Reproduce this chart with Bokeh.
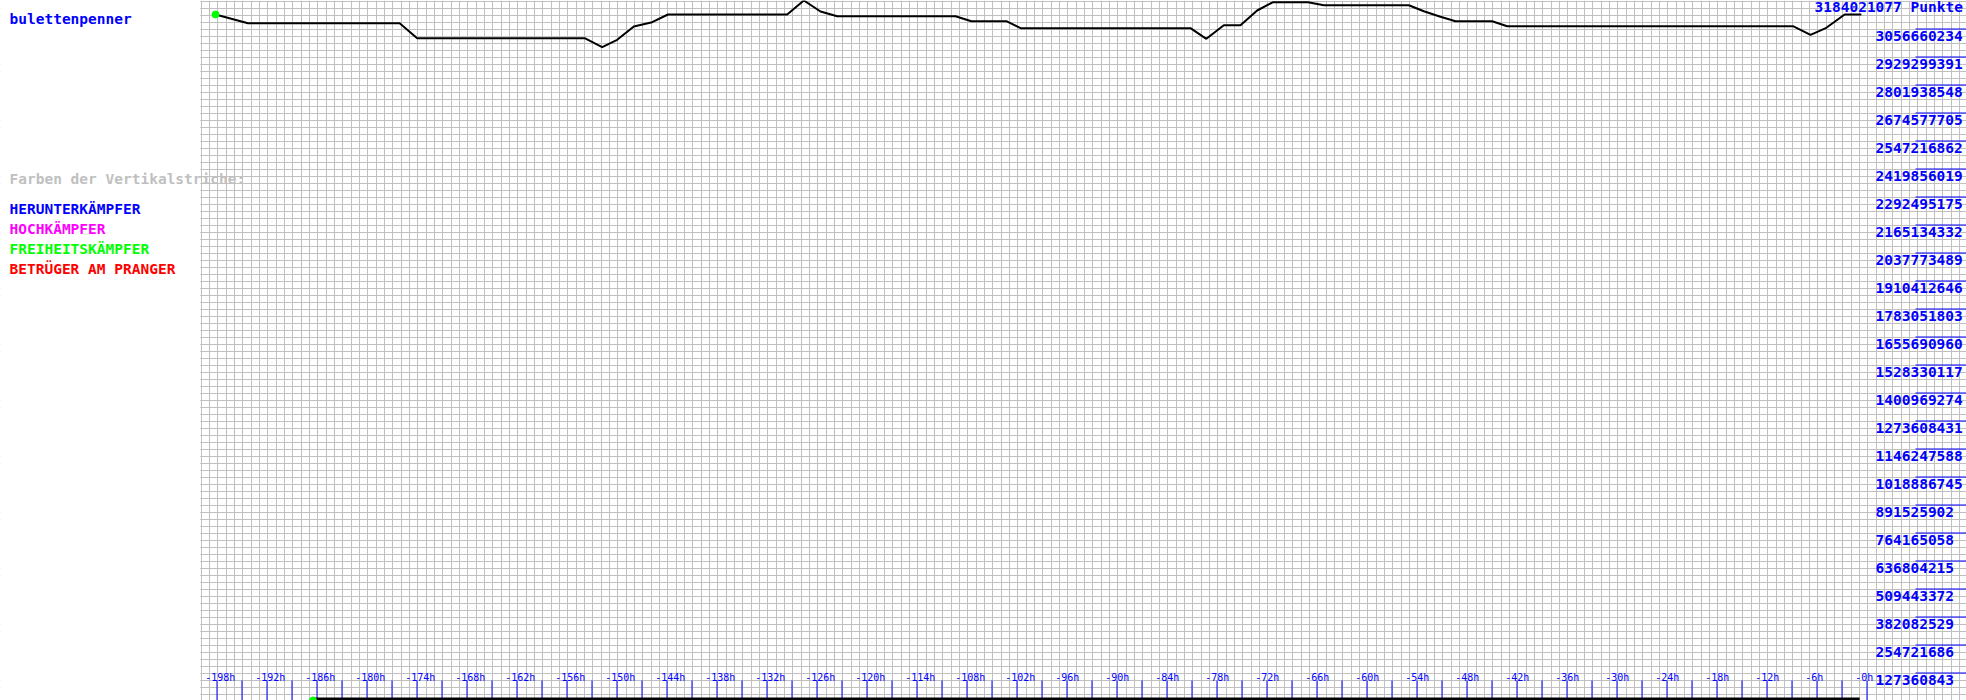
import math
from bokeh.plotting import figure
from bokeh.models import Range1d, Grid, FixedTicker
from bokeh.core.properties import value
from bokeh.embed import file_html
from bokeh.resources import INLINE

# ---------------- data ----------------
SPIELER = "bulettenpenner"
MAX_PUNKTE = 3184021077

stunden = [-198.2, -194.3, -176.1, -174.0, -153.9, -151.8, -150.0, -148.0, -145.8,
           -143.9, -129.6, -127.6, -125.6, -123.6, -109.4, -107.5, -103.3, -101.6,
           -81.2, -79.3, -77.2, -75.2, -73.2, -71.3, -67.1, -65.2, -55.0, -53.2,
           -51.3, -49.4, -45.0, -43.2, -8.9, -6.8, -4.9, -2.7, -0.7]
punkte = [3120340656, 3080767823, 3080767823, 3012538801, 3012538801, 2971601387,
          3005261038, 3065757438, 3085316424, 3120340656, 3120340656, 3184021077,
          3133986460, 3112608033, 3112608033, 3089865026, 3089865026, 3058024815,
          3058024815, 3009809640, 3071670620, 3071670620, 3138535062, 3176288454,
          3176288454, 3162642650, 3162642650, 3135351041, 3111243453, 3089865026,
          3089865026, 3067122018, 3067122018, 3028004045, 3059844256, 3120340656,
          3120340656]

basis_stunden = [-186.5, -0.9]
basis_punkte = [0, 0]

y_labels = ["127360843", "254721686", "382082529", "509443372", "636804215",
            "764165058", "891525902", "1018886745", "1146247588", "1273608431",
            "1400969274", "1528330117", "1655690960", "1783051803", "1910412646",
            "2037773489", "2165134332", "2292495175", "2419856019", "2547216862",
            "2674577705", "2801938548", "2929299391", "3056660234"]
y_label_values = [int(s) for s in y_labels]
top_label = "3184021077 Punkte"

x_tick_hours = list(range(-198, 1, 3))
x_label_hours = list(range(-198, 1, 6))
x_labels = ["-%dh" % abs(h) for h in x_label_hours]

legend_title = "Farben der Vertikalstriche:"
legend_texts = ["HERUNTERKÄMPFER", "HOCHKÄMPFER", "FREIHEITSKÄMPFER", "BETRÜGER AM PRANGER"]
legend_colors = ["#0000ff", "#ff00ff", "#00ff00", "#ff0000"]

# ---------------- layout helpers ----------------
W, H = 1966, 700
PX_PER_H = 100.0 / 12.0
ZERO_PX = 1866.67
GRID_LEFT_PX = 200
BIG = 14.5     # font size of the large texts (px)
SMALL = 10     # font size of the hour labels (px)
SHIFT_BIG = 5.5
SHIFT_SMALL = 4.0


def X(px):
    return (px - ZERO_PX) / PX_PER_H


def Y(py):
    return MAX_PUNKTE * (H - py) / H


def DY(dpx):
    return MAX_PUNKTE * dpx / H


def crisp_x(h):
    # snap a grid line onto a single pixel column
    return X(math.floor(ZERO_PX + h * PX_PER_H) + 0.5)


p = figure(width=W, height=H, output_backend="svg", toolbar_location=None,
           x_range=Range1d(X(0), X(W)), y_range=Range1d(0, MAX_PUNKTE),
           x_axis_type=None, y_axis_type=None, min_border=0,
           outline_line_color=None, background_fill_color="white",
           border_fill_color="white")

GRID_COLOR = "#c0c0c0"
vgrid_ticks = [crisp_x(h) for h in range(-200, 12)]
hgrid_ticks = [MAX_PUNKTE * k / 100.0 - DY(0.5) for k in range(1, 101)]
p.add_layout(Grid(dimension=0, ticker=FixedTicker(ticks=vgrid_ticks),
                  grid_line_color=GRID_COLOR, grid_line_width=1))
p.add_layout(Grid(dimension=1, ticker=FixedTicker(ticks=hgrid_ticks),
                  grid_line_color=GRID_COLOR, grid_line_width=1))

# white left panel (no grid there)
p.quad(left=X(0), right=X(GRID_LEFT_PX - 0.2), bottom=0, top=MAX_PUNKTE,
       fill_color="white", line_color=None)

BLUE = "#0000ff"
MONO = value("DejaVu Sans Mono")
BIGS = "%gpx" % BIG
SMALLS = "%gpx" % SMALL

# bottom hour ticks
tick_x = [crisp_x(h) for h in x_tick_hours]
p.segment(x0=tick_x, y0=[0] * len(x_tick_hours),
          x1=tick_x, y1=[DY(20)] * len(x_tick_hours),
          line_color=BLUE, line_width=1)
p.text(x=x_label_hours, y=[DY(19.5 + SHIFT_SMALL)] * len(x_label_hours), text=x_labels,
       x_offset=-12, text_font=MONO, text_font_size=SMALLS, text_color=BLUE,
       text_align="left", text_baseline="alphabetic")

# right value labels
p.segment(x0=[X(1915)] * len(y_label_values), y0=[v - DY(0.5) for v in y_label_values],
          x1=[X(W)] * len(y_label_values), y1=[v - DY(0.5) for v in y_label_values],
          line_color=BLUE, line_width=1)
p.text(x=[X(1875)] * len(y_label_values),
       y=[v - DY(13 - SHIFT_BIG) for v in y_label_values],
       text=y_labels, text_font=MONO, text_font_size=BIGS, text_font_style="bold",
       text_color=BLUE, text_align="left", text_baseline="alphabetic")
p.text(x=[X(1814)], y=[MAX_PUNKTE - DY(11.5 - SHIFT_BIG)], text=[top_label], text_font=MONO,
       text_font_size=BIGS, text_font_style="bold", text_color=BLUE,
       text_align="left", text_baseline="alphabetic")

# series
p.line(basis_stunden, basis_punkte, line_color="black", line_width=6)
p.scatter(basis_stunden[:1], basis_punkte[:1], size=7, color="#00ff00")
p.line(stunden, punkte, line_color="black", line_width=2)
p.scatter(stunden[:1], punkte[:1], size=7, color="#00ff00")

# left panel texts
p.text(x=[X(9)], y=[Y(23.5 - SHIFT_BIG)], text=[SPIELER], text_font=MONO,
       text_font_size=BIGS, text_font_style="bold", text_color=BLUE,
       text_align="left", text_baseline="alphabetic")
p.text(x=[X(9)], y=[Y(183.5 - SHIFT_BIG)], text=[legend_title], text_font=MONO,
       text_font_size=BIGS, text_font_style="bold", text_color="#c0c0c0",
       text_align="left", text_baseline="alphabetic")
p.text(x=[X(9)] * len(legend_texts),
       y=[Y(213.5 - SHIFT_BIG + 20 * i) for i in range(len(legend_texts))],
       text=legend_texts, text_font=MONO, text_font_size=BIGS,
       text_font_style="bold", text_color=legend_colors, text_align="left",
       text_baseline="alphabetic")

open("out.html", "w").write(file_html(p, INLINE))
